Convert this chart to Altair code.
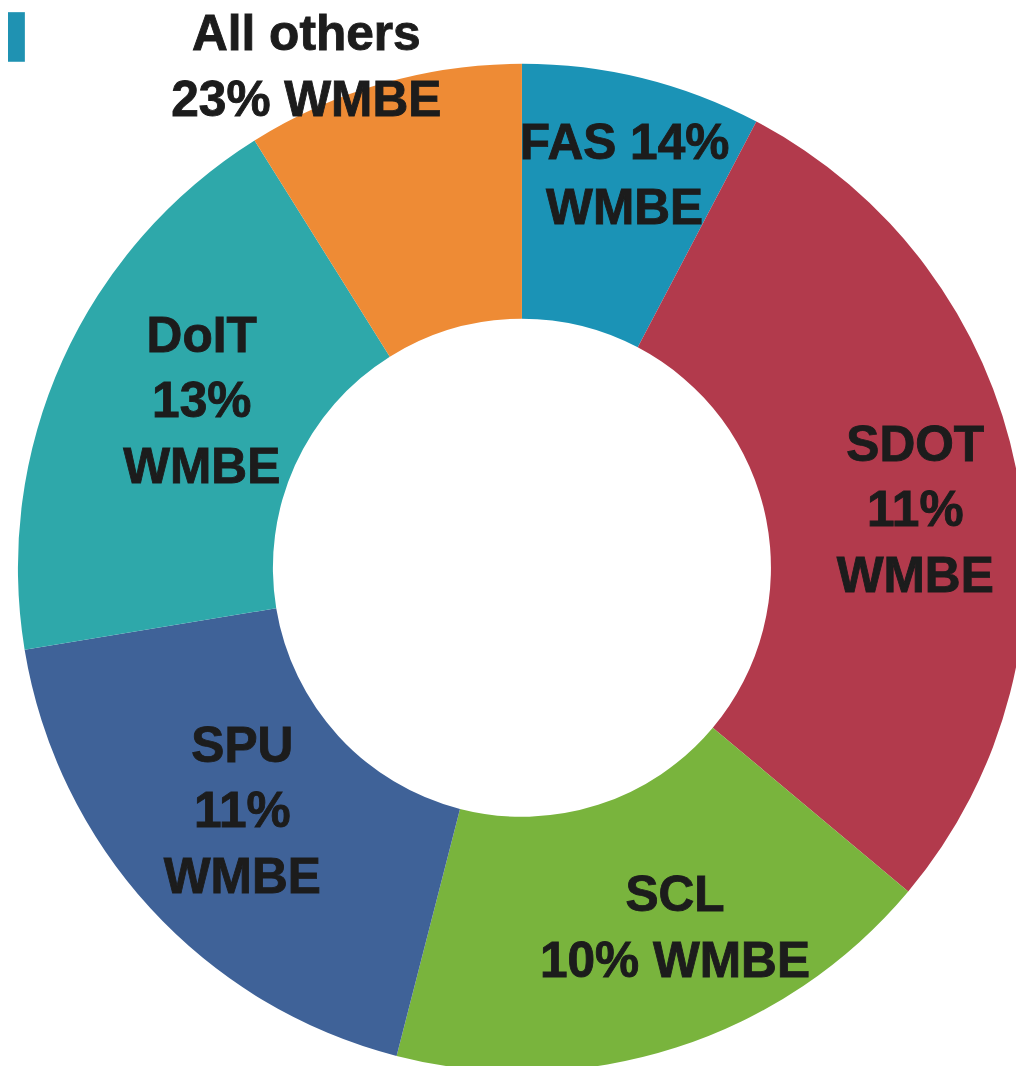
import altair as alt
import pandas as pd

categories = ["FAS", "SDOT", "SCL", "SPU", "DoIT", "All others"]
shares = [7.7, 28.4, 17.9, 18.4, 18.7, 8.9]
wmbe_pct = [14, 11, 10, 11, 13, 23]
colors = ["#1b93b6", "#b23a4c", "#79b43d", "#3f6298", "#2ea8aa", "#ee8b35"]

# label line layouts (text only)
label_text = [
    f"FAS {wmbe_pct[0]}%\nWMBE",
    f"SDOT\n{wmbe_pct[1]}%\nWMBE",
    f"SCL\n{wmbe_pct[2]}% WMBE",
    f"SPU\n{wmbe_pct[3]}%\nWMBE",
    f"DoIT\n{wmbe_pct[4]}%\nWMBE",
    f"All others\n{wmbe_pct[5]}% WMBE",
]

# styling: label radius and pixel nudges
label_style = {
    "FAS": (407, 6, 1),
    "SDOT": (401, 3, 21),
    "SCL": (393, 34, -10),
    "SPU": (374, -6, -6),
    "DoIT": (364, 9, -17),
    "All others": (552, -65, 27),
}
LINE_H = 66

total = sum(shares)
cum = []
run = 0.0
for s in shares:
    cum.append(run + s / 2)
    run += s

df = pd.DataFrame({
    "idx": list(range(len(categories))),
    "cat": categories,
    "share": shares,
    "mid": cum,
    "label": label_text,
})

CX, CY = 518, 560
R_OUT, R_IN = 508, 251

theta_scale = alt.Scale(domain=[0, total], range=[0, 6.283185307179586])

base = alt.Chart(df)

arcs = base.mark_arc(radius=R_OUT, radius2=R_IN, strokeWidth=0).encode(
    theta=alt.Theta("share:Q", stack=True, scale=theta_scale),
    color=alt.Color("cat:N", scale=alt.Scale(domain=categories, range=colors), legend=None),
    order=alt.Order("idx:Q"),
    x=alt.value(CX),
    y=alt.value(CY),
)

text_layers = []
for c, lbl in zip(categories, label_text):
    r, dx, dy = label_style[c]
    n_lines = lbl.count("\n") + 1
    t = base.transform_filter(alt.datum.cat == c).mark_text(
        radius=r, dx=dx, dy=dy - (n_lines - 1) * LINE_H / 2,
        font="Liberation Sans", fontWeight="bold",
        fontSize=50, lineBreak="\n", lineHeight=LINE_H, color="#1c1c1c",
        stroke="#1c1c1c", strokeWidth=0.9,
        align="center", baseline="middle",
    ).encode(
        theta=alt.Theta("mid:Q", scale=theta_scale, stack=False),
        text="label:N",
        x=alt.value(CX),
        y=alt.value(CY),
    )
    text_layers.append(t)

square = alt.Chart(df.head(1)).mark_rect(color="#1f92b2").encode(
    x=alt.value(0), x2=alt.value(17), y=alt.value(0), y2=alt.value(50)
)

chart = alt.layer(arcs, square, *text_layers).properties(
    width=1016, height=1058,
    autosize=alt.AutoSizeParams(type="none"),
    padding=0,
).configure_view(stroke=None)

chart.save("out.html", embed_options={"renderer": "svg", "actions": False})
